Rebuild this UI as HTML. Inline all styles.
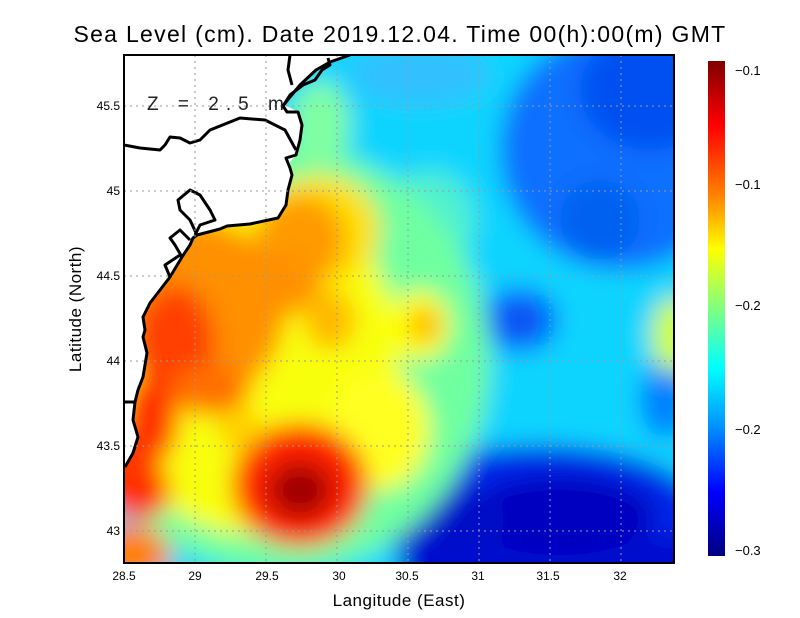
<!DOCTYPE html>
<html><head><meta charset="utf-8"><style>
html,body{margin:0;padding:0;background:#fff;}
svg{display:block;}
text{font-family:"Liberation Sans",sans-serif;}
</style></head><body>
<svg width="800" height="618" viewBox="0 0 800 618" xmlns="http://www.w3.org/2000/svg">
<defs>
<clipPath id="pc"><rect x="124" y="55" width="550" height="508"/></clipPath>
<filter id="bl" filterUnits="userSpaceOnUse" x="0" y="0" width="800" height="618"><feGaussianBlur stdDeviation="12"/></filter>
<linearGradient id="cb" x1="0" y1="0" x2="0" y2="1">
<stop offset="0" stop-color="#800000"/>
<stop offset="0.13" stop-color="#ff0000"/>
<stop offset="0.27" stop-color="#ff8000"/>
<stop offset="0.38" stop-color="#ffff00"/>
<stop offset="0.5" stop-color="#80ff80"/>
<stop offset="0.62" stop-color="#00ffff"/>
<stop offset="0.74" stop-color="#0090ff"/>
<stop offset="0.87" stop-color="#0000ff"/>
<stop offset="1" stop-color="#000080"/>
</linearGradient>
</defs>
<g clip-path="url(#pc)">
<g filter="url(#bl)">
<rect x="60" y="10" width="680" height="600" fill="#10d4ff"/>
<ellipse cx="620" cy="150" rx="120" ry="120" fill="#1070ff"/>
<ellipse cx="650" cy="90" rx="70" ry="60" fill="#0050f0"/>
<ellipse cx="600" cy="220" rx="40" ry="40" fill="#0060f0"/>
<ellipse cx="420" cy="75" rx="70" ry="30" fill="#30c0ff"/>
<ellipse cx="430" cy="220" rx="45" ry="50" fill="#50f0d0"/>
<ellipse cx="540" cy="515" rx="165" ry="70" fill="#0028e8"/>
<rect x="400" y="535" width="340" height="80" fill="#0010d0"/>
<ellipse cx="560" cy="515" rx="95" ry="40" fill="#0000c0"/>
<ellipse cx="460" cy="520" rx="45" ry="32" fill="#0008c8"/>
<ellipse cx="665" cy="400" rx="25" ry="38" fill="#0080ff"/>
<ellipse cx="520" cy="320" rx="38" ry="32" fill="#0068ff"/>
<ellipse cx="520" cy="320" rx="20" ry="18" fill="#1050f0"/>
<ellipse cx="280" cy="360" rx="210" ry="215" fill="#70ffa0"/>
<ellipse cx="320" cy="125" rx="30" ry="45" fill="#80ffa0"/>
<ellipse cx="250" cy="360" rx="150" ry="175" fill="#f8ff10"/>
<ellipse cx="320" cy="230" rx="60" ry="55" fill="#ffe000"/>
<ellipse cx="380" cy="430" rx="50" ry="60" fill="#ffff20"/>
<ellipse cx="420" cy="325" rx="30" ry="35" fill="#ffff00"/>
<ellipse cx="425" cy="325" rx="15" ry="18" fill="#ffb000"/>
<ellipse cx="674" cy="335" rx="22" ry="38" fill="#d0ff30"/>
<ellipse cx="200" cy="310" rx="85" ry="90" fill="#ff9000"/>
<ellipse cx="300" cy="240" rx="45" ry="45" fill="#ff9a00"/>
<ellipse cx="260" cy="285" rx="60" ry="35" fill="#ff9000"/>
<ellipse cx="330" cy="320" rx="25" ry="30" fill="#ffb800"/>
<ellipse cx="175" cy="345" rx="40" ry="60" fill="#ff4000"/>
<ellipse cx="150" cy="420" rx="28" ry="45" fill="#ff3000"/>
<ellipse cx="210" cy="390" rx="40" ry="25" fill="#ff7000"/>
<ellipse cx="300" cy="485" rx="68" ry="62" fill="#ff2000"/>
<ellipse cx="300" cy="490" rx="32" ry="28" fill="#a00000"/>
<ellipse cx="110" cy="470" rx="25" ry="40" fill="#ff3000"/>
<ellipse cx="140" cy="490" rx="30" ry="30" fill="#ff3000"/>
<ellipse cx="130" cy="555" rx="40" ry="30" fill="#ff8000"/>
<ellipse cx="240" cy="430" rx="22" ry="20" fill="#ffd000"/>
</g>
<path d="M124,55 L350,55 L330,62 L316,70 L300,85 L290,97 L285,105 L298,112 L302,125 L300,140 L296,155 L290,162 L292,175 L288,190 L286,205 L278,218 L250,224 L227,226 L220,229 L197,235 L193,238 L190,245 L182,257 L170,277 L160,290 L150,303 L143,317 L145,330 L143,337 L147,353 L143,377 L138,390 L135,402 L133,420 L138,437 L133,453 L125,467 L124,467 Z" fill="#fff"/>
<g fill="none" stroke="#000" stroke-width="3" stroke-linejoin="round">
<path d="M350,55 L330,62 L316,70 L300,85 L290,97 L283,106 L287,112 L298,112 L302,125 L300,140 L296,155 L286,158 L290,168 L292,175 L288,190 L286,205 L278,218 L250,224 L227,226 L220,229 L197,235 L193,238 L190,245 L182,257 L170,277 L160,290 L150,303 L143,317 L145,330 L143,337 L147,353 L143,377 L138,390 L135,402 L133,420 L138,437 L133,453 L125,467"/>
<path d="M124,145 L140,148 L160,150 L165,145 L170,137 L180,138 L190,143 L200,140 L210,130 L240,118 L265,120 L285,130 L296,150"/>
<path d="M283,106 L290,95 L303,85 L315,80 L322,70 L330,65 L328,58"/>
<path d="M290,55 L288,70 L292,85"/>
<path d="M197,235 L190,220 L180,210 L178,200 L190,190 L200,195 L210,210 L215,220 L200,225 L195,235"/>
<path d="M182,257 L175,245 L170,238 L180,230 L190,240"/>
<path d="M170,277 L165,265 L180,255"/>
<path d="M124,402 L135,402"/>
</g>
</g>
<g stroke="#9a9a9a" stroke-width="1" stroke-dasharray="2,4">
<line x1="195" y1="55" x2="195" y2="563"/><line x1="266" y1="55" x2="266" y2="563"/><line x1="337" y1="55" x2="337" y2="563"/><line x1="408" y1="55" x2="408" y2="563"/><line x1="479" y1="55" x2="479" y2="563"/><line x1="550" y1="55" x2="550" y2="563"/><line x1="621" y1="55" x2="621" y2="563"/>
<line x1="124" y1="106" x2="674" y2="106"/><line x1="124" y1="191" x2="674" y2="191"/><line x1="124" y1="276" x2="674" y2="276"/><line x1="124" y1="361" x2="674" y2="361"/><line x1="124" y1="446" x2="674" y2="446"/><line x1="124" y1="531" x2="674" y2="531"/>
</g>
<rect x="124" y="55" width="550" height="508" fill="none" stroke="#000" stroke-width="2"/>
<text x="147" y="110" font-size="19" fill="#222" letter-spacing="7">Z = 2.5 m</text>
<text x="400" y="42" font-size="23" text-anchor="middle" letter-spacing="1.3">Sea Level (cm). Date 2019.12.04. Time 00(h):00(m) GMT</text>
<g font-size="12" text-anchor="middle">
<text x="124" y="580">28.5</text><text x="195" y="580">29</text><text x="267" y="580">29.5</text><text x="339" y="580">30</text><text x="407" y="580">30.5</text><text x="478" y="580">31</text><text x="548" y="580">31.5</text><text x="620" y="580">32</text>
</g>
<g font-size="12" text-anchor="end">
<text x="120" y="110">45.5</text><text x="120" y="195">45</text><text x="120" y="280">44.5</text><text x="120" y="365">44</text><text x="120" y="450">43.5</text><text x="120" y="535">43</text>
</g>
<text x="399" y="606" font-size="17" text-anchor="middle" letter-spacing="0.5">Langitude (East)</text>
<text x="0" y="0" font-size="17" text-anchor="middle" letter-spacing="0.5" transform="translate(81,309) rotate(-90)">Latitude (North)</text>
<rect x="708" y="61" width="17" height="495" fill="url(#cb)"/>
<g font-size="13">
<text x="735" y="75">−0.1</text><text x="735" y="189">−0.1</text><text x="735" y="310">−0.2</text><text x="735" y="434">−0.2</text><text x="735" y="555">−0.3</text>
</g>
</svg>
</body></html>
